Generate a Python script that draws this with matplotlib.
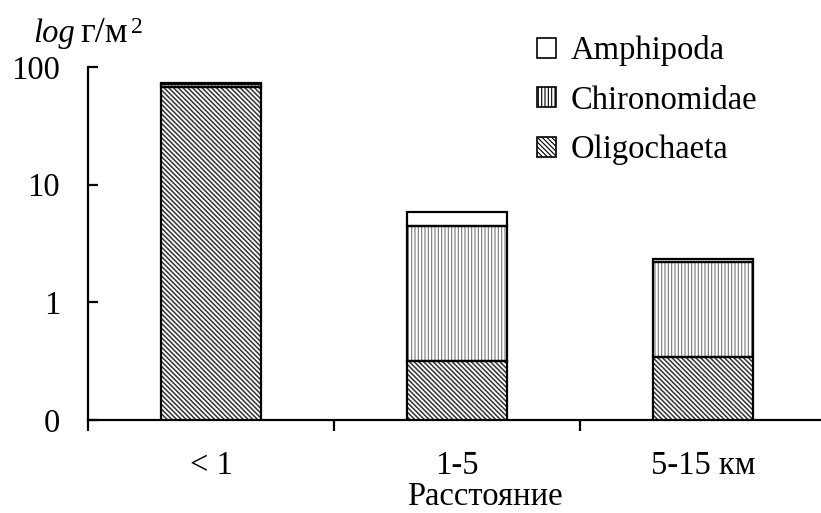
import matplotlib
matplotlib.use("Agg")
import matplotlib.pyplot as plt
import numpy as np
from matplotlib.patches import Patch

# Biomass by distance group (g/m^2), stacked per taxon
categories = ["< 1", "1-5", "5-15 км"]
oligochaeta = [68.0, 0.32, 0.34]
chironomidae = [4.0, 4.13, 1.86]
amphipoda = [1.0, 1.40, 0.14]

ytick_vals = [0.1, 1, 10, 100]
ytick_labels = ["0", "1", "10", "100"]

plt.rcParams["font.family"] = ["Liberation Serif", "DejaVu Serif"]
plt.rcParams["hatch.linewidth"] = 0.8

OLIG_HATCH = "\\" * 7
CHIR_HATCH = "|" * 5
OLIG_HATCH_LW = 1.1

W, H = 821, 513
fig = plt.figure(figsize=(W / 100, H / 100), dpi=100)
left, right, bottom, top = 88, 826, 420, 67
ax = fig.add_axes([left / W, 1 - bottom / H, (right - left) / W, (bottom - top) / H])

x = np.arange(len(categories))
width = 0.41
olig = np.array(oligochaeta)
chir = np.array(chironomidae)
amph = np.array(amphipoda)

# hatch fills (hatch colour follows edgecolor), then black outlines on top
with plt.rc_context({"hatch.linewidth": OLIG_HATCH_LW}):
    ax.bar(x, olig, width, bottom=0, color="white", edgecolor="#333333",
           hatch=OLIG_HATCH, linewidth=0)
ax.bar(x, chir, width, bottom=olig, color="white", edgecolor="#777777",
       hatch=CHIR_HATCH, linewidth=0)
ax.bar(x, amph, width, bottom=olig + chir, color="white", linewidth=0)
for vals, base in [(olig, 0), (chir, olig), (amph, olig + chir)]:
    ax.bar(x, vals, width, bottom=base, fill=False, edgecolor="black",
           linewidth=1.6)

ax.set_yscale("log")
ax.set_ylim(0.1, 100)
ax.set_xlim(-0.5, 2.5)

ax.set_yticks(ytick_vals)
ax.set_yticklabels(ytick_labels)
ax.yaxis.set_minor_locator(matplotlib.ticker.NullLocator())
ax.tick_params(axis="y", direction="in", length=7, width=1.6, pad=20,
               labelsize=23.5)

ax.set_xticks([-0.5, 0.5, 1.5])
ax.set_xticklabels(["", "", ""])
ax.set_xticks(x, minor=True)
ax.set_xticklabels(categories, minor=True)
ax.tick_params(axis="x", which="major", direction="out", length=8, width=1.6)
ax.tick_params(axis="x", which="minor", length=0, pad=22, labelsize=23.5)

for s in ["top", "right"]:
    ax.spines[s].set_visible(False)
for s in ["left", "bottom"]:
    ax.spines[s].set_linewidth(1.6)

fig.text(485 / W, 1 / H, "Расстояние", ha="center", va="bottom",
         fontsize=23.5)
fig.text(33 / W, 1 - 42 / H, "log", style="italic", ha="left",
         va="baseline", fontsize=23.5)
fig.text(80 / W, 1 - 42 / H, "г/м", ha="left", va="baseline", fontsize=26)
fig.text(131 / W, 1 - 33 / H, "2", ha="left", va="baseline", fontsize=17)

handles = [
    Patch(facecolor="white", edgecolor="black", linewidth=1.2),
    Patch(facecolor="white", edgecolor="black", hatch=CHIR_HATCH, linewidth=1.2),
]
with plt.rc_context({"hatch.linewidth": OLIG_HATCH_LW}):
    handles.append(Patch(facecolor="white", edgecolor="black",
                         hatch=OLIG_HATCH, linewidth=1.2))
fig.legend(handles, ["Amphipoda", "Chironomidae", "Oligochaeta"],
           loc="upper left", bbox_to_anchor=(521 / W, 1 - 19 / H),
           frameon=False, fontsize=23.5, handlelength=0.56, handleheight=0.56,
           handletextpad=0.47, labelspacing=0.58, borderpad=0)

fig.savefig("out.png", dpi=100)
